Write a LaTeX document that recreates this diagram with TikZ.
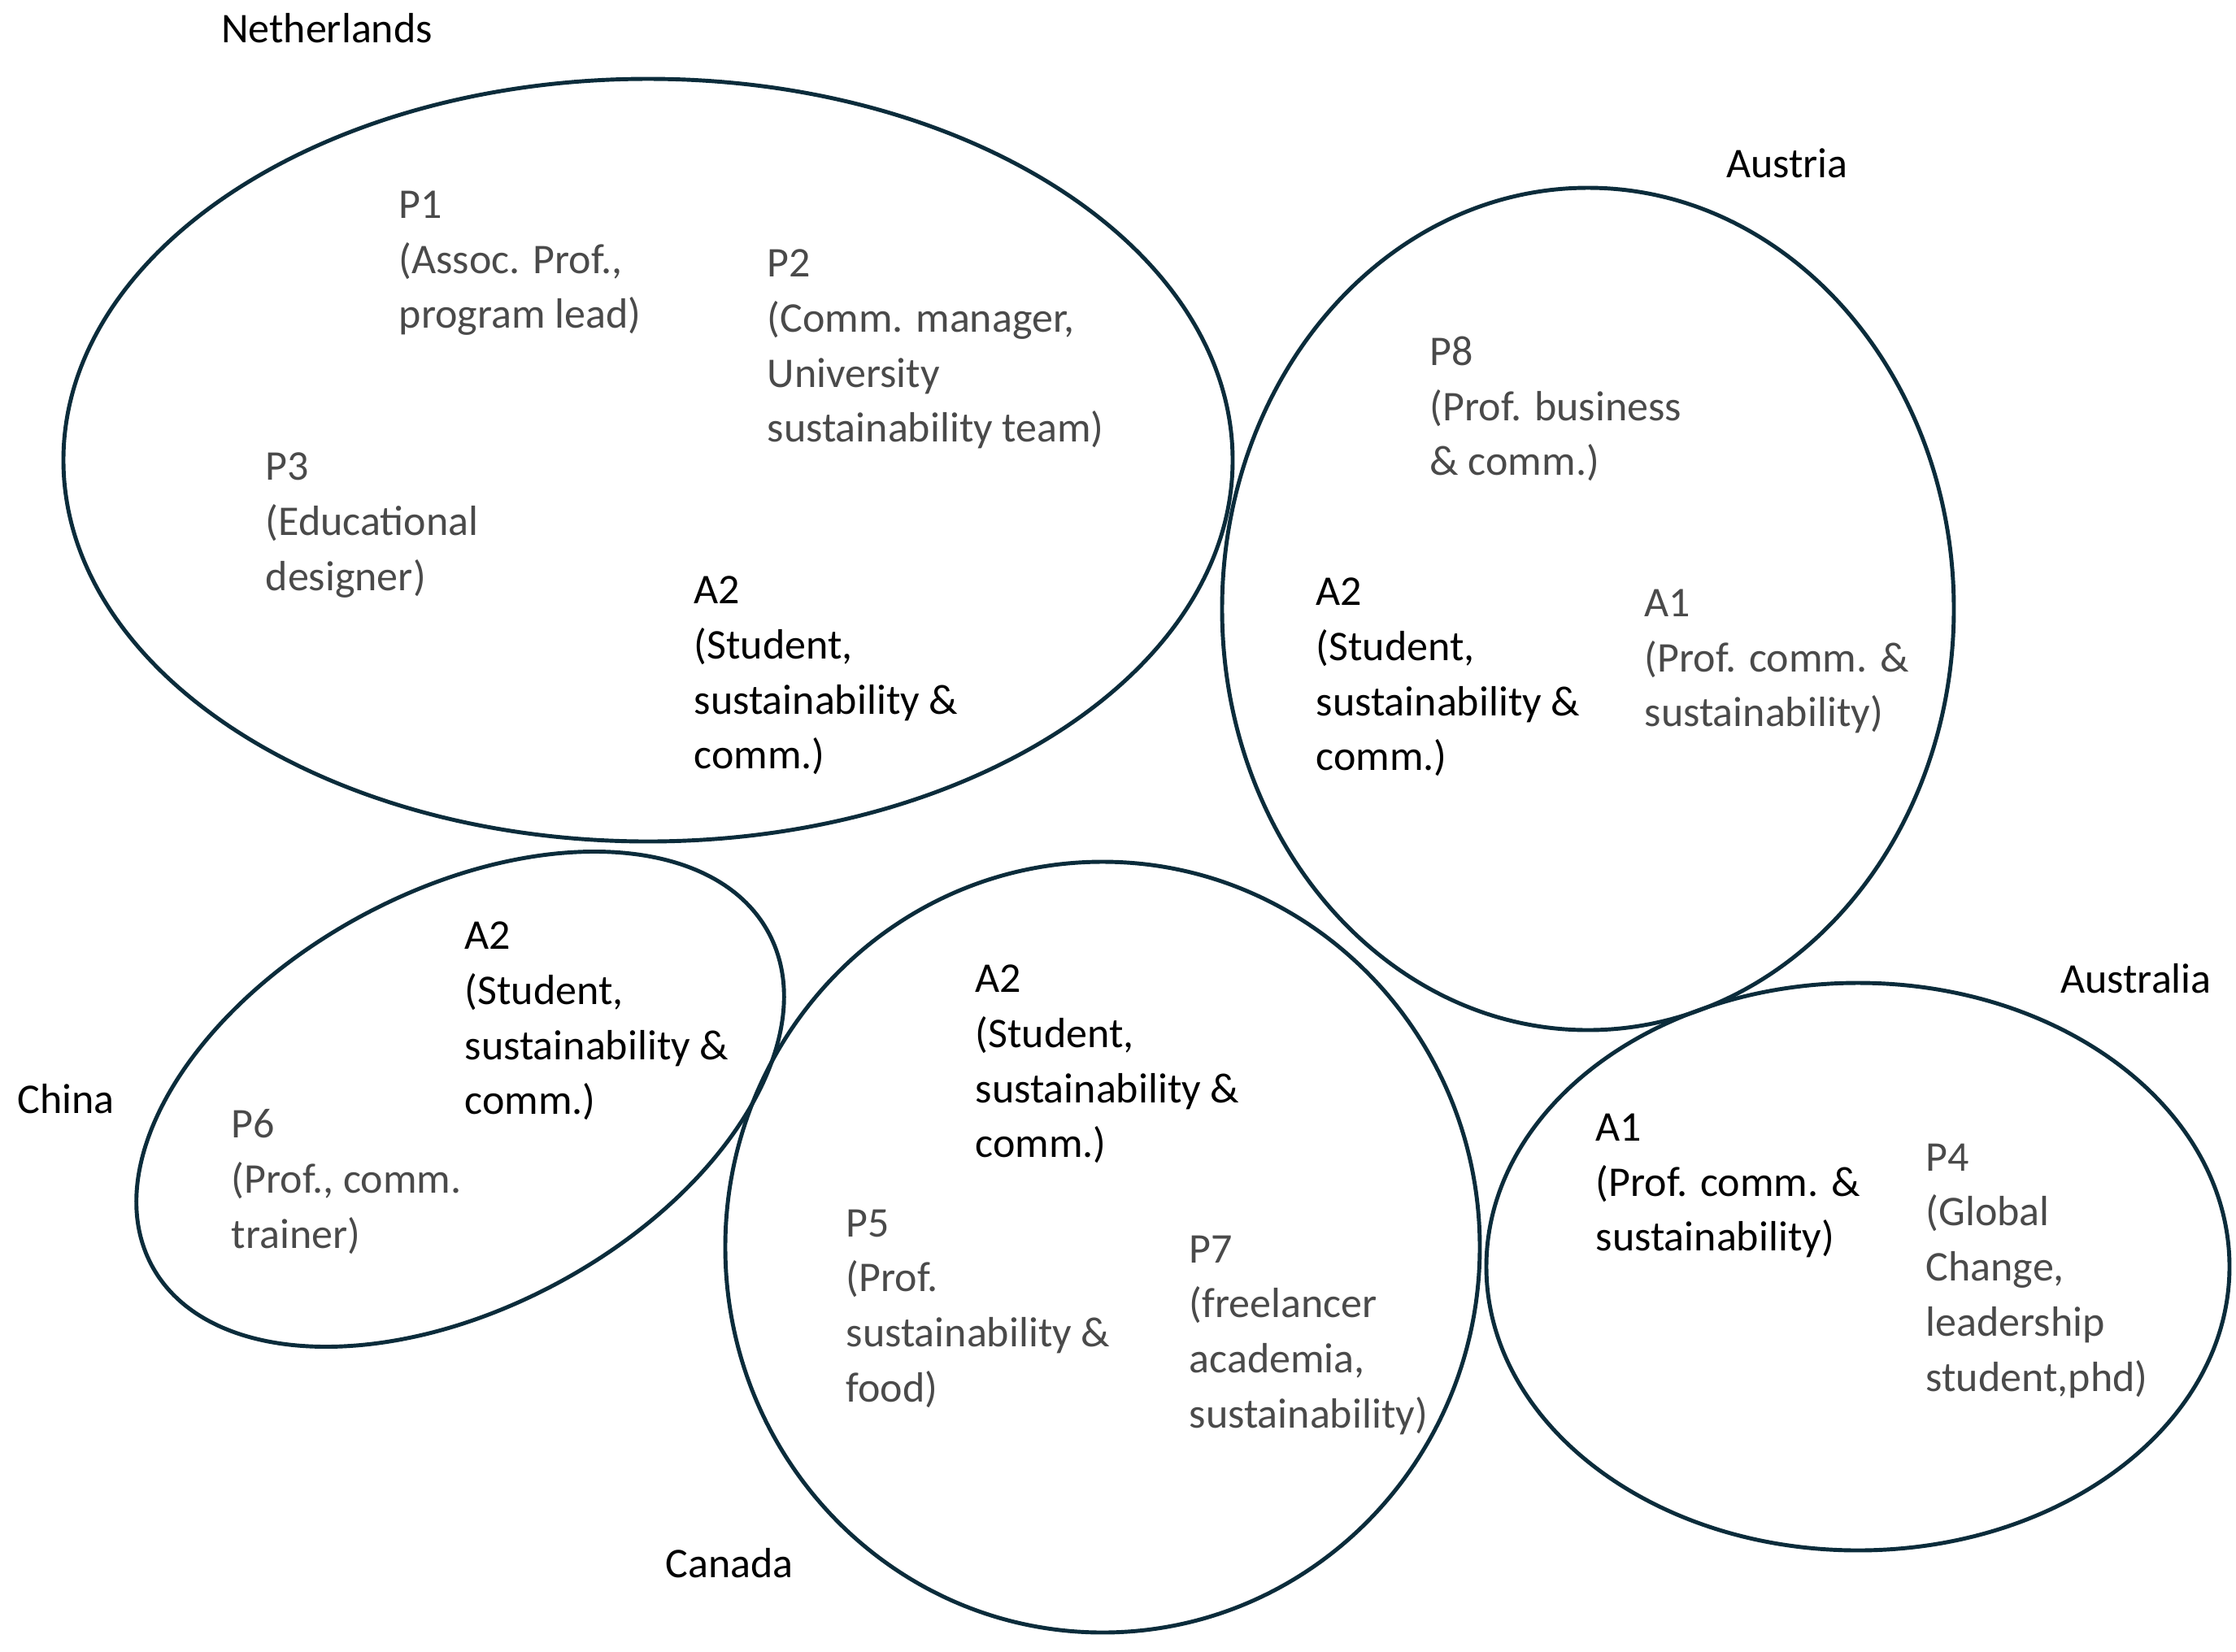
\documentclass[tikz,border=0pt]{standalone}
\usepackage{fontspec}
\setmainfont{Carlito}
\usepackage{tikz}
\usetikzlibrary{positioning}
\definecolor{bord}{HTML}{0B2C3B}
\definecolor{gristxt}{HTML}{4A4A4A}

\begin{document}
\begin{tikzpicture}[
  pays/.style={inner sep=0,font=\fontsize{14.8}{19.3}\selectfont,black},
  part/.style={inner sep=0,anchor=north west,align=left,font=\fontsize{14.8}{19.3}\selectfont,gristxt},
  auteur/.style={part,black},
  groupe/.style={draw=bord,line width=1.4pt}]
\useasboundingbox(0,0)rectangle(27.5,-20.31);
% les groupes par pays
\coordinate(cNL)at(7.97,-5.66);
\coordinate(cAT)at(19.53,-7.49);
\coordinate(cAU)at(22.85,-15.58);
\coordinate(cCN)at(5.66,-13.52);
\coordinate(cCA)at(13.56,-15.34);
\draw[groupe](cNL)ellipse(7.19 and 4.69);
\draw[groupe](cAT)ellipse(4.50 and 5.18);
\draw[groupe](cAU)ellipse(4.57 and 3.49);
\draw[groupe,rotate around={28.4:(cCN)}](cCN)ellipse(4.31 and 2.56);
\draw[groupe](cCA)ellipse(4.64 and 4.74);
% noms des pays
\node[pays](NL)at(4.02,-0.35){Netherlands};
\node[pays](AT)at(21.98,-2.01){Austria};
\node[pays](AU)at(26.27,-12.04){Australia};
\node[pays](CN)at(0.81,-13.52){China};
\node[pays](CA)at(8.97,-19.23){Canada};
% Netherlands
\node[part](P1)at(4.90,-2.34){P1\\(Assoc. Prof.,\\program lead)};
\node[part](P2)at(9.43,-3.06){P2\\(Comm. manager,\\University\\sustainability team)};
\node[part](P3)at(3.26,-5.56){P3\\(Educational\\designer)};
\node[auteur](A2NL)at(8.53,-7.08){A2\\(Student,\\sustainability \&\\comm.)};
% Austria
\node[part](P8)at(17.58,-4.13){P8\\(Prof. business\\\& comm.)};
\node[auteur](A2AT)at(16.18,-7.10){A2\\(Student,\\sustainability \&\\comm.)};
\node[part](A1AT)at(20.22,-7.24){A1\\(Prof. comm. \&\\sustainability)};
% Australia
\node[auteur](A1AU)at(19.62,-13.69){A1\\(Prof. comm. \&\\sustainability)};
\node[part](P4)at(23.68,-14.06){P4\\(Global\\Change,\\leadership\\student,phd)};
% China
\node[auteur](A2CN)at(5.71,-11.33){A2\\(Student,\\sustainability \&\\comm.)};
\node[part](P6)at(2.84,-13.64){P6\\(Prof., comm.\\trainer)};
% Canada
\node[auteur](A2CA)at(11.99,-11.86){A2\\(Student,\\sustainability \&\\comm.)};
\node[part](P5)at(10.40,-14.87){P5\\(Prof.\\sustainability \&\\food)};
\node[part](P7)at(14.62,-15.19){P7\\(freelancer\\academia,\\sustainability)};
\end{tikzpicture}
\end{document}
